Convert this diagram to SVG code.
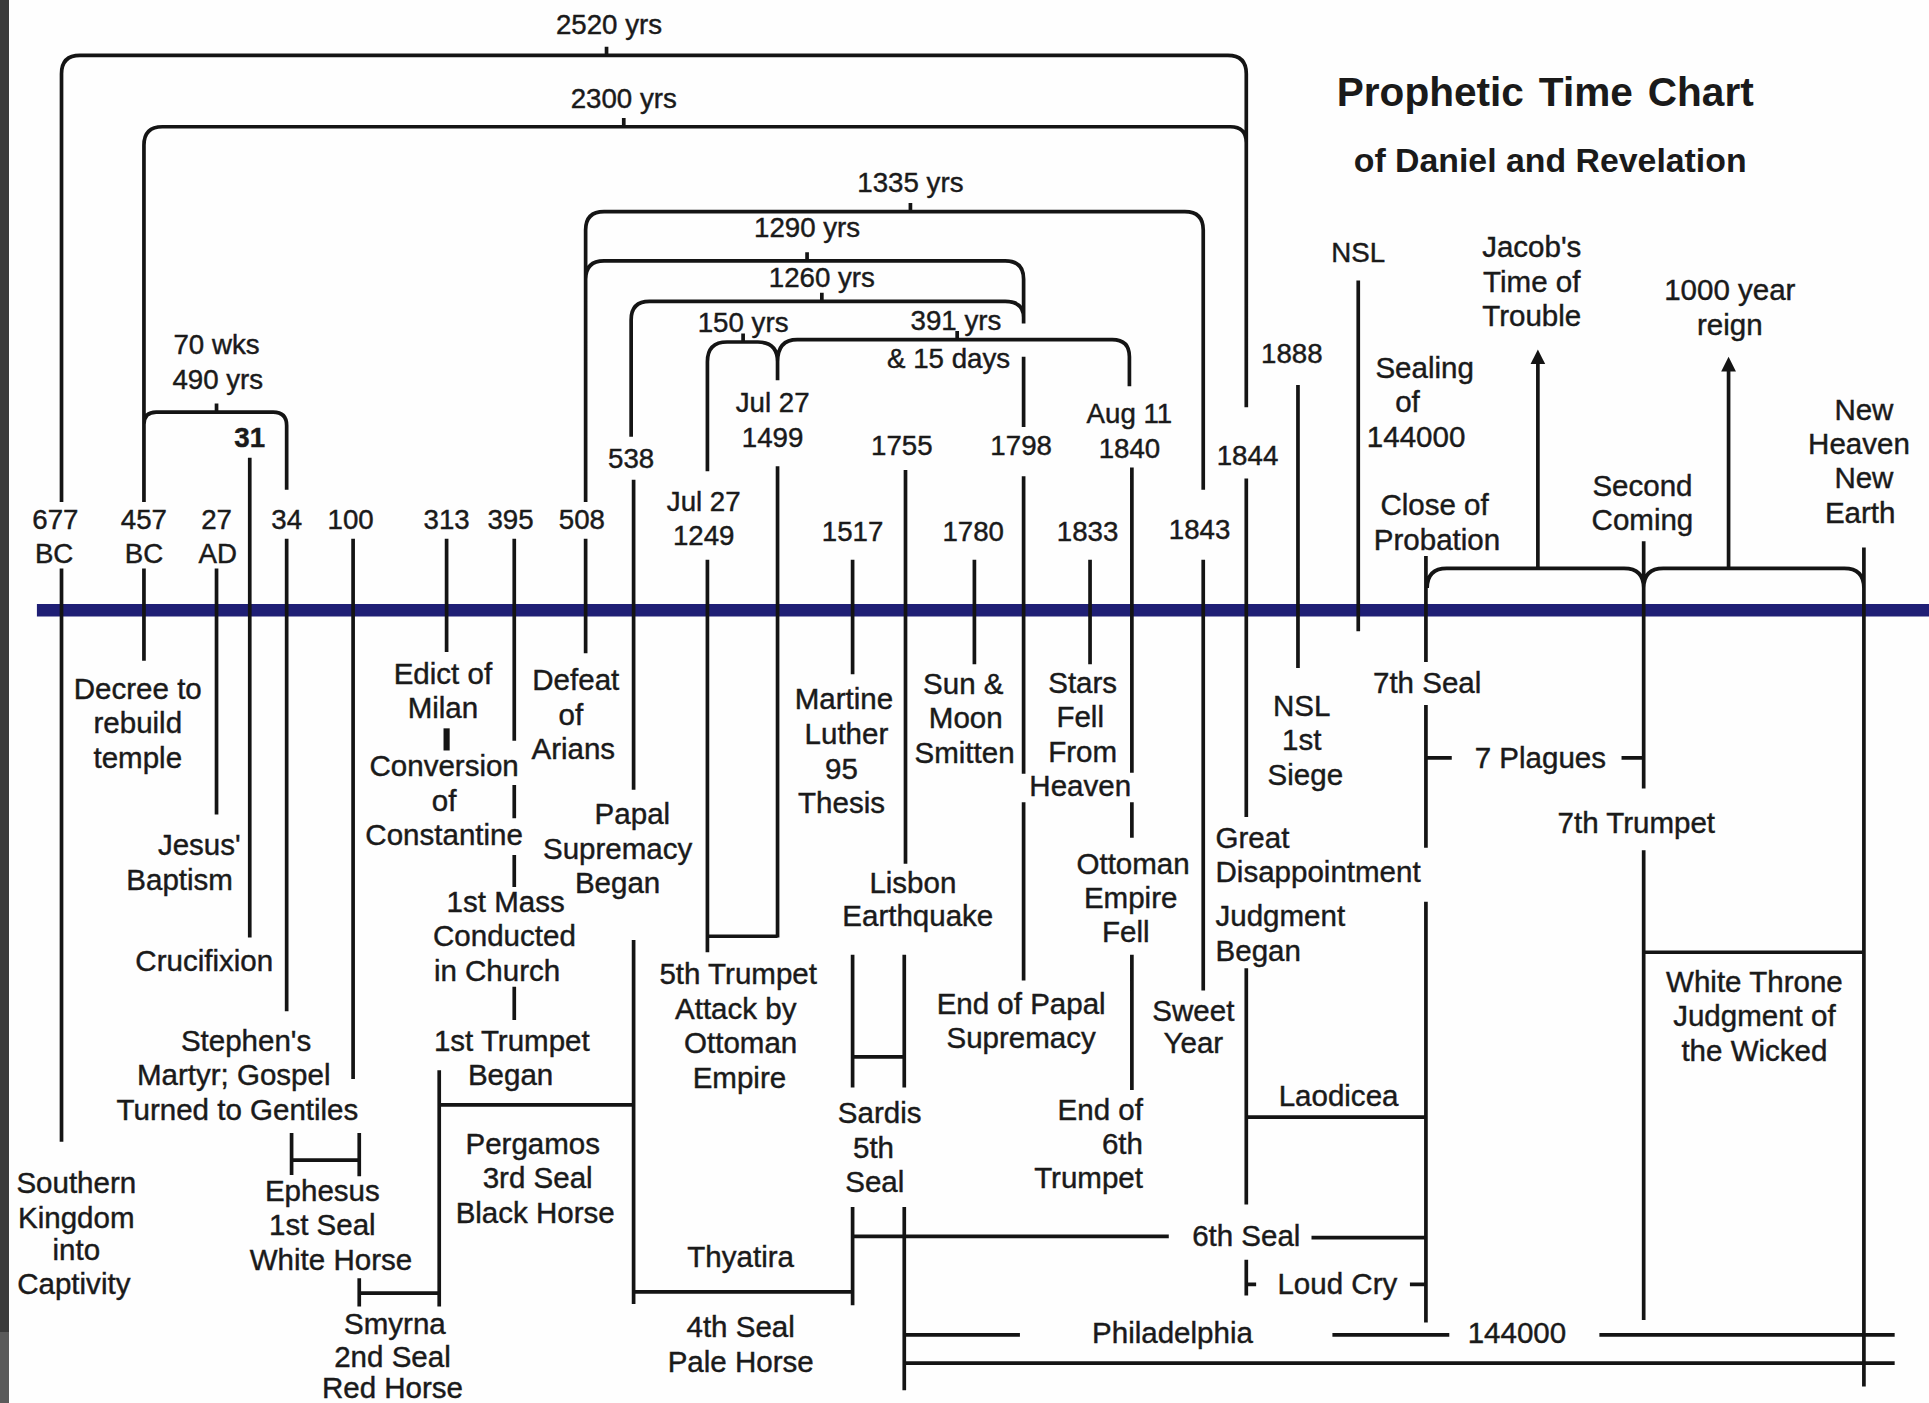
<svg xmlns="http://www.w3.org/2000/svg" width="1929" height="1403" viewBox="0 0 1929 1403">
<style>
.l{fill:none;stroke:#141414;stroke-width:3}
.k{fill:none;stroke:#141414;stroke-width:5}
.tl{fill:none;stroke:#1f1f75;stroke-width:10}
text{font-family:"Liberation Sans",Arial,sans-serif;fill:#1a1a1a;stroke:#1a1a1a;stroke-width:0.35;text-anchor:middle}
.t{font-size:24px}
.d{font-size:22.5px}
.s{text-anchor:start}
.e{text-anchor:end}
.h1{font-size:33px;font-weight:bold;word-spacing:3px;stroke-width:0}
.h2{font-size:27.5px;font-weight:bold;stroke-width:0}
</style>
<defs>
<marker id="ah" markerUnits="userSpaceOnUse" markerWidth="14" markerHeight="14" refX="2" refY="6" orient="auto">
<path d="M0,0 L12,6 L0,12 z" fill="#141414"/>
</marker>
</defs>
<rect width="1929" height="1403" fill="#fefefe"/>
<rect x="0" y="0" width="9" height="1332" fill="#3a3a3a"/>
<rect x="0" y="1332" width="9" height="71" fill="#5a5a5a"/>
<g transform="scale(1.2303)">
<g id="connectors">
<path class="tl" d="M30,496H1568"/>
<path class="l" d="M50,408V60Q50,45 65,45H998Q1013,45 1013,60V331 M493,45V38
M117,408V118Q117,103 132,103H1000Q1013,103 1013,116 M507,103V96
M117,345Q117,335 127,335H222Q233,335 233,346V398 M176,335V328
M476,408V187Q476,172 491,172H963Q978,172 978,187V398 M740,172V165
M476,227Q476,212 491,212H817Q832,212 832,227V263 M656,212V205
M513,355V260Q513,245 528,245H817Q832,245 832,258 M668,245V238
M832,290V347
M575,383V294Q575,278 591,278H616Q632,278 632,294V309
M632,294Q632,276 648,276H904Q918,276 918,290V314 M604,278V271 M778,276V269
M50,462V928 M117,462V537 M176,462V662 M203,372V762 M233,438V822 M287,438V877
M363,438V530
M418,438V602 M418,638V665 M418,695V721 M418,802V829
M357,870V1062 M357,898H515
M237,921V955 M292,921V956 M237,943H292
M292,1039V1062 M292,1051H357
M476,438V531
M515,390V642 M515,764V1060 M515,1050H693
M575,455V774 M632,379V762 M575,761H632
M693,455V548 M693,776V884 M693,981V1061
M736,382V702 M735,776V884 M735,981V1130 M693,859H735
M792,455V540
M832,387V629 M832,652V797
M886,455V540
M920,380V628 M920,652V681 M920,776V886
M978,455V805
M1013,389V664 M1013,787V979 M1013,1024V1053
M1013,908H1159
M693,1005H950 M1066,1006H1159
M1013,1044H1021 M1146,1044H1159
M1055,313V543
M1104,228V513
M1159,452V538 M1159,573V689 M1159,733V1075
M1160,616H1180 M1318,616H1336
M1336,440V641 M1336,691V1073
M1336,774H1515
M1515,445V1127
M735,1085H829 M1083,1085H1178 M1300,1085H1540
M735,1108H1540
M1160,478Q1160,462 1176,462H1320Q1336,462 1336,478 M1336,478Q1336,462 1352,462H1499Q1515,462 1515,478"/>
<path class="k" d="M363,592V610"/>
<path class="l" d="M1250,462V294" marker-end="url(#ah)"/>
<path class="l" d="M1405,462V300" marker-end="url(#ah)"/>
</g>
<g id="title"><text class="h1" x="1256" y="86">Prophetic Time Chart</text><text class="h2" x="1260" y="140">of Daniel and Revelation</text></g>
<g id="p2520"><text class="d" x="495" y="28">2520 yrs</text></g>
<g id="p2300"><text class="d" x="507" y="88">2300 yrs</text></g>
<g id="p1335"><text class="d" x="740" y="156">1335 yrs</text></g>
<g id="p1290"><text class="d" x="656" y="193">1290 yrs</text></g>
<g id="p1260"><text class="d" x="668" y="233">1260 yrs</text></g>
<g id="p150"><text class="d" x="604" y="270">150 yrs</text></g>
<g id="p391"><text class="d" x="777" y="268">391 yrs</text><text class="d" x="771" y="299">&amp; 15 days</text></g>
<g id="p70"><text class="d" x="176" y="288">70 wks</text><text class="d" x="177" y="316">490 yrs</text></g>
<g id="d31"><text class="d" x="203" y="363" font-weight="bold">31</text></g>
<g id="d677"><text class="d" x="45" y="430">677</text><text class="d" x="44" y="458">BC</text></g>
<g id="d457"><text class="d" x="117" y="430">457</text><text class="d" x="117" y="458">BC</text></g>
<g id="d27"><text class="d" x="176" y="430">27</text><text class="d" x="177" y="458">AD</text></g>
<g id="d34"><text class="d" x="233" y="430">34</text></g>
<g id="d100"><text class="d" x="285" y="430">100</text></g>
<g id="d313"><text class="d" x="363" y="430">313</text></g>
<g id="d395"><text class="d" x="415" y="430">395</text></g>
<g id="d508"><text class="d" x="473" y="430">508</text></g>
<g id="d538"><text class="d" x="513" y="380">538</text></g>
<g id="d1249"><text class="d" x="572" y="415">Jul 27</text><text class="d" x="572" y="443">1249</text></g>
<g id="d1499"><text class="d" x="628" y="335">Jul 27</text><text class="d" x="628" y="363">1499</text></g>
<g id="d1517"><text class="d" x="693" y="440">1517</text></g>
<g id="d1755"><text class="d" x="733" y="370">1755</text></g>
<g id="d1780"><text class="d" x="791" y="440">1780</text></g>
<g id="d1798"><text class="d" x="830" y="370">1798</text></g>
<g id="d1840"><text class="d" x="918" y="344">Aug 11</text><text class="d" x="918" y="372">1840</text></g>
<g id="d1833"><text class="d" x="884" y="440">1833</text></g>
<g id="d1843"><text class="d" x="975" y="438">1843</text></g>
<g id="d1844"><text class="d" x="1014" y="378">1844</text></g>
<g id="d1888"><text class="d" x="1050" y="295">1888</text></g>
<g id="nsl"><text class="d" x="1104" y="213">NSL</text></g>
<g id="sealing"><text class="t" x="1158" y="307">Sealing</text><text class="t" x="1144" y="335">of</text><text class="t" x="1151" y="363">144000</text></g>
<g id="jacob"><text class="t" x="1245" y="209">Jacob's</text><text class="t" x="1245" y="237">Time of</text><text class="t" x="1245" y="265">Trouble</text></g>
<g id="reign"><text class="t" x="1406" y="244">1000 year</text><text class="t" x="1406" y="272">reign</text></g>
<g id="newearth"><text class="t" x="1515" y="341">New</text><text class="t" x="1511" y="369">Heaven</text><text class="t" x="1515" y="397">New</text><text class="t" x="1512" y="425">Earth</text></g>
<g id="second"><text class="t" x="1335" y="403">Second</text><text class="t" x="1335" y="431">Coming</text></g>
<g id="close"><text class="t" x="1166" y="419">Close of</text><text class="t" x="1168" y="447">Probation</text></g>
<g id="decree"><text class="t" x="112" y="568">Decree to</text><text class="t" x="112" y="596">rebuild</text><text class="t" x="112" y="624">temple</text></g>
<g id="baptism"><text class="t" x="162" y="695">Jesus'</text><text class="t" x="146" y="723">Baptism</text></g>
<g id="cruc"><text class="t" x="166" y="789">Crucifixion</text></g>
<g id="stephen"><text class="t" x="200" y="854">Stephen's</text><text class="t" x="190" y="882">Martyr; Gospel</text><text class="t" x="193" y="910">Turned to Gentiles</text></g>
<g id="southern"><text class="t" x="62" y="970">Southern</text><text class="t" x="62" y="998">Kingdom</text><text class="t" x="62" y="1024">into</text><text class="t" x="60" y="1052">Captivity</text></g>
<g id="ephesus"><text class="t" x="262" y="976">Ephesus</text><text class="t" x="262" y="1004">1st Seal</text><text class="t" x="269" y="1032">White Horse</text></g>
<g id="smyrna"><text class="t" x="321" y="1084">Smyrna</text><text class="t" x="319" y="1111">2nd Seal</text><text class="t" x="319" y="1136">Red Horse</text></g>
<g id="edict"><text class="t" x="360" y="556">Edict of</text><text class="t" x="360" y="584">Milan</text></g>
<g id="conversion"><text class="t" x="361" y="631">Conversion</text><text class="t" x="361" y="659">of</text><text class="t" x="361" y="687">Constantine</text></g>
<g id="mass"><text class="t" x="411" y="741">1st Mass</text><text class="t" x="410" y="769">Conducted</text><text class="t" x="404" y="797">in Church</text></g>
<g id="trumpet1"><text class="t" x="416" y="854">1st Trumpet</text><text class="t" x="415" y="882">Began</text></g>
<g id="pergamos"><text class="t" x="433" y="938">Pergamos</text><text class="t" x="437" y="966">3rd Seal</text><text class="t" x="435" y="994">Black Horse</text></g>
<g id="defeat"><text class="t" x="468" y="561">Defeat</text><text class="t" x="464" y="589">of</text><text class="t" x="466" y="617">Arians</text></g>
<g id="papal"><text class="t" x="514" y="670">Papal</text><text class="t" x="502" y="698">Supremacy</text><text class="t" x="502" y="726">Began</text></g>
<g id="trumpet5"><text class="t" x="600" y="800">5th Trumpet</text><text class="t" x="598" y="828">Attack by</text><text class="t" x="602" y="856">Ottoman</text><text class="t" x="601" y="884">Empire</text></g>
<g id="thyatira"><text class="t" x="602" y="1030">Thyatira</text><text class="t" x="602" y="1087">4th Seal</text><text class="t" x="602" y="1115">Pale Horse</text></g>
<g id="luther"><text class="t" x="686" y="576">Martine</text><text class="t" x="688" y="605">Luther</text><text class="t" x="684" y="633">95</text><text class="t" x="684" y="661">Thesis</text></g>
<g id="lisbon"><text class="t" x="742" y="726">Lisbon</text><text class="t" x="746" y="753">Earthquake</text></g>
<g id="sardis"><text class="t" x="715" y="913">Sardis</text><text class="t" x="710" y="941">5th</text><text class="t" x="711" y="969">Seal</text></g>
<g id="sun"><text class="t" x="783" y="564">Sun &amp;</text><text class="t" x="785" y="592">Moon</text><text class="t" x="784" y="620">Smitten</text></g>
<g id="stars"><text class="t" x="880" y="563">Stars</text><text class="t" x="878" y="591">Fell</text><text class="t" x="880" y="619">From</text><text class="t" x="878" y="647">Heaven</text></g>
<g id="endpapal"><text class="t" x="830" y="824">End of Papal</text><text class="t" x="830" y="852">Supremacy</text></g>
<g id="ottoman"><text class="t" x="921" y="710">Ottoman</text><text class="t" x="919" y="738">Empire</text><text class="t" x="915" y="766">Fell</text></g>
<g id="end6"><text class="t e" x="929" y="910">End of</text><text class="t e" x="929" y="938">6th</text><text class="t e" x="929" y="966">Trumpet</text></g>
<g id="sweet"><text class="t" x="970" y="830">Sweet</text><text class="t" x="970" y="856">Year</text></g>
<g id="great"><text class="t s" x="988" y="689">Great</text><text class="t s" x="988" y="717">Disappointment</text><text class="t s" x="988" y="753">Judgment</text><text class="t s" x="988" y="781">Began</text></g>
<g id="nslsiege"><text class="t" x="1058" y="582">NSL</text><text class="t" x="1058" y="610">1st</text><text class="t" x="1061" y="638">Siege</text></g>
<g id="seal7"><text class="t" x="1160" y="563">7th Seal</text></g>
<g id="plagues"><text class="t" x="1252" y="624">7 Plagues</text></g>
<g id="trumpet7"><text class="t" x="1330" y="677">7th Trumpet</text></g>
<g id="whitethrone"><text class="t" x="1426" y="806">White Throne</text><text class="t" x="1426" y="834">Judgment of</text><text class="t" x="1426" y="862">the Wicked</text></g>
<g id="laodicea"><text class="t" x="1088" y="899">Laodicea</text></g>
<g id="seal6"><text class="t" x="1013" y="1013">6th Seal</text></g>
<g id="loudcry"><text class="t" x="1087" y="1052">Loud Cry</text></g>
<g id="philadelphia"><text class="t" x="953" y="1092">Philadelphia</text></g>
<g id="n144000"><text class="t" x="1233" y="1092">144000</text></g>
</g>
</svg>
